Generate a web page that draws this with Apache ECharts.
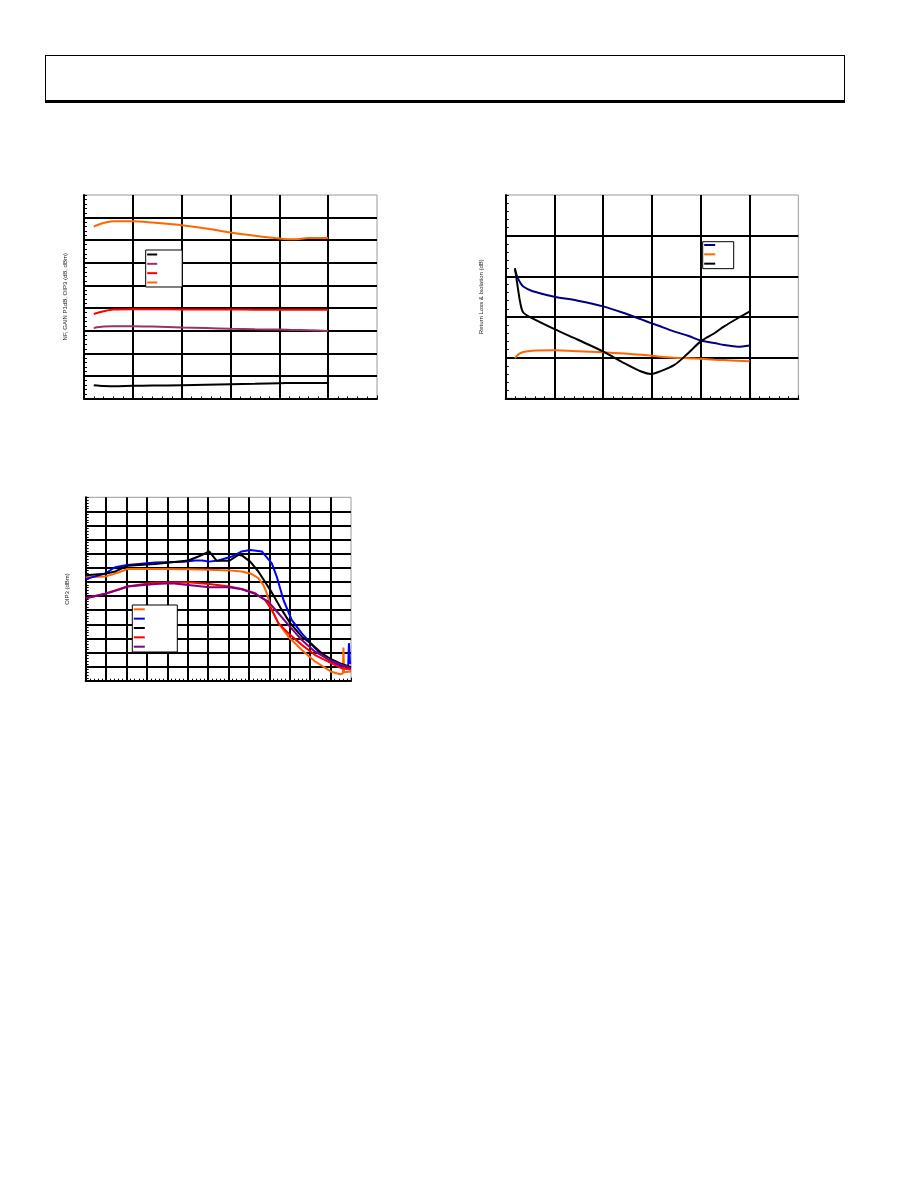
<!DOCTYPE html>
<html>
<head>
<meta charset="utf-8">
<script src="https://cdn.jsdelivr.net/npm/echarts@6/dist/echarts.min.js"></script>
<style>
html,body{margin:0;padding:0;background:#fff;}
#hdr{position:absolute;left:45px;top:55px;width:800px;height:48px;box-sizing:border-box;border:1px solid #000;border-bottom:3px solid #000;}
#main{position:absolute;left:0;top:0;width:918px;height:1188px;}
</style>
</head>
<body>
<div id="main"></div>
<div id="hdr"></div>
<script>
// ---------- Chart 1: NF, Gain, P1dB, OIP3 vs frequency (GHz) ----------
const c1Freq = [0.1, 0.2, 0.3, 0.5, 0.7, 1.0, 1.25, 1.5, 1.75, 2.0, 2.15, 2.3, 2.5];
const c1NF   = [2.95, 2.75, 2.72, 2.8, 2.85, 2.95, 3.05, 3.15, 3.25, 3.38, 3.42, 3.45, 3.45];
const c1Gain = [15.6, 15.9, 16.0, 16.0, 15.9, 15.7, 15.6, 15.4, 15.3, 15.25, 15.15, 15.1, 14.95];
const c1P1dB = [18.7, 19.3, 19.7, 19.75, 19.75, 19.7, 19.7, 19.7, 19.65, 19.65, 19.6, 19.6, 19.6];
const c1OIP3 = [38.0, 38.8, 39.2, 39.2, 38.9, 38.3, 37.6, 36.7, 36.0, 35.4, 35.2, 35.5, 35.5];

// ---------- Chart 2: Return loss & isolation (dB) ----------
const c2Freq = [0.095, 0.12, 0.15, 0.18, 0.27, 0.5, 0.74, 1.0, 1.22, 1.39, 1.49, 1.56, 1.73, 1.87, 2.0, 2.14, 2.24, 2.38, 2.5];
const c2S11  = [-18.4, -20.2, -21.6, -22.5, -23.6, -25.0, -26.0, -27.4, -29.1, -30.6, -31.5, -32.1, -33.6, -34.6, -35.8, -36.4, -36.9, -37.3, -37.0];
const c2S22  = [-40.1, -39.4, -38.9, -38.6, -38.3, -38.2, -38.4, -38.7, -39.0, -39.3, -39.5, -39.7, -40.0, -40.15, -40.3, -40.5, -40.6, -40.75, -40.9];
const c2S12  = [-18.0, -22.1, -26.6, -28.9, -30.3, -33.0, -35.6, -38.5, -41.4, -43.4, -44.0, -43.6, -41.8, -38.9, -36.0, -34.0, -32.3, -30.3, -28.7];

// ---------- Chart 3: OIP3 (dBm) ----------
const c3OrangeX = [0, 0.95, 1.6, 2.04, 3.4, 5.03, 6.05, 7.04, 7.65, 8.14, 8.46, 8.71, 8.87, 9.12, 9.44, 9.93, 10.59, 11.24, 12.03, 12.47, 12.6, 12.63, 12.66, 13];
const c3OrangeY = [36.7, 36.9, 38.3, 39.6, 39.6, 39.5, 39.3, 39.1, 38.7, 37.8, 36.3, 33.9, 31.0, 25.1, 20.4, 15.6, 10.9, 6.8, 3.2, 2.3, 2.5, 11.8, 3.0, 3.3];
const c3BlueX = [0, 0.95, 1.44, 2.04, 3.4, 4.79, 5.36, 5.7, 6.05, 6.5, 7.16, 7.65, 8.06, 8.63, 9.12, 9.36, 9.69, 10.1, 10.59, 11.03, 11.57, 12.03, 12.55, 12.86, 12.9, 12.95, 13];
const c3BlueY = [36.0, 38.0, 40.2, 41.0, 41.9, 42.2, 42.6, 42.6, 42.2, 42.6, 44.0, 45.8, 46.3, 45.8, 41.6, 36.9, 28.6, 21.5, 16.8, 13.2, 9.1, 6.8, 5.2, 4.9, 13.3, 6.2, 6.2];
const c3BlackX = [0, 0.95, 1.44, 2.04, 3.4, 5.03, 5.52, 6.05, 6.42, 7.04, 7.48, 7.65, 8.06, 8.46, 9.04, 9.61, 10.02, 10.59, 11.03, 11.57, 12.03, 12.55, 13];
const c3BlackY = [37.4, 37.9, 38.7, 40.7, 41.4, 42.6, 44.0, 45.8, 42.5, 42.5, 44.6, 44.4, 42.2, 38.7, 32.2, 25.1, 20.4, 15.6, 13.2, 9.7, 7.6, 5.9, 4.8];
const c3RedX = [0, 0.95, 2.04, 3.4, 5.03, 6.05, 7.04, 7.65, 8.3, 8.79, 9.12, 9.44, 9.93, 10.59, 11.24, 12.03, 12.55, 13];
const c3RedY = [29.2, 30.8, 33.4, 34.8, 34.9, 34.3, 33.4, 32.5, 31.0, 28.6, 25.1, 20.4, 16.8, 12.7, 9.1, 6.2, 4.4, 4.0];
const c3PurpleX = [0, 0.95, 1.6, 2.04, 3.4, 4.22, 5.03, 6.05, 7.04, 7.65, 8.3, 8.95, 9.44, 9.93, 10.59, 11.24, 12.03, 12.55, 13];
const c3PurpleY = [29.2, 30.8, 32.2, 33.4, 34.3, 34.5, 33.9, 33.1, 33.1, 32.4, 30.8, 28.0, 23.9, 19.8, 14.4, 10.3, 7.0, 5.6, 4.4];

const zip = (xs, ys) => xs.map((x, i) => [x, ys[i]]);

const FONT = 'Liberation Sans, Arial, sans-serif';

function xAxisCfg(gridIndex, min, max, interval) {
  return {
    type: 'value', gridIndex, min, max, interval,
    axisLine: { show: true, onZero: false, lineStyle: { color: '#000', width: 2 } },
    axisTick: { show: true, inside: true, length: 3, lineStyle: { color: '#000', width: 1 } },
    minorTick: { show: true, splitNumber: 5, length: 2, lineStyle: { color: '#000', width: 1 } },
    axisLabel: { show: false },
    splitLine: { show: true, showMaxLine: false, showMinLine: false, lineStyle: { color: '#000', width: 2 } },
    minorSplitLine: { show: false }
  };
}
function yAxisCfg(gridIndex, min, max, interval, name, nameGap) {
  return {
    type: 'value', gridIndex, min, max, interval,
    name, nameLocation: 'middle', nameGap, nameRotate: 90,
    nameTextStyle: { fontSize: 6, color: '#222', fontFamily: FONT },
    axisLine: { show: true, onZero: false, lineStyle: { color: '#000', width: 2 } },
    axisTick: { show: true, inside: true, length: 3, lineStyle: { color: '#000', width: 1 } },
    minorTick: { show: true, splitNumber: 5, length: 3, lineStyle: { color: '#000', width: 1 } },
    axisLabel: { show: false },
    splitLine: { show: true, showMaxLine: false, showMinLine: false, lineStyle: { color: '#000', width: 2 } },
    minorSplitLine: { show: false }
  };
}
function line(name, data, color, xi, smooth) {
  return {
    type: 'line', name, data, xAxisIndex: xi, yAxisIndex: xi,
    showSymbol: false, symbol: 'none', smooth: smooth,
    lineStyle: { color, width: 2 }, itemStyle: { color },
    emphasis: { disabled: true }, animation: false, z: 5
  };
}
function legendCfg(names, left, top, padding, itemWidth, gap) {
  return {
    data: names, orient: 'vertical', left, top, padding,
    itemWidth, itemHeight: 2, itemGap: gap, icon: 'rect',
    formatter: () => '', selectedMode: false,
    textStyle: { fontSize: 7, lineHeight: 7, padding: 0 },
    backgroundColor: '#fff', borderColor: '#000', borderWidth: 1, borderRadius: 0, z: 10
  };
}

const c1Names = ['NF', 'Gain', 'P1dB', 'OIP3'];
const c2Names = ['Input Return Loss', 'Output Return Loss', 'Isolation'];
const c3Names = ['OIP3 condition 1', 'OIP3 condition 2', 'OIP3 condition 3', 'OIP3 condition 4', 'OIP3 condition 5'];

const option = {
  animation: false,
  backgroundColor: '#fff',
  textStyle: { fontFamily: FONT },
  grid: [
    { left: 84, top: 195, width: 293, height: 203.5, show: true, borderColor: '#9a9a9a', borderWidth: 1, backgroundColor: 'transparent' },
    { left: 505.7, top: 195, width: 292.6, height: 203.3, show: true, borderColor: '#9a9a9a', borderWidth: 1, backgroundColor: 'transparent' },
    { left: 85.7, top: 497.3, width: 265.3, height: 183.4, show: true, borderColor: '#9a9a9a', borderWidth: 1, backgroundColor: 'transparent' }
  ],
  xAxis: [
    xAxisCfg(0, 0, 3, 0.5),
    xAxisCfg(1, 0, 3, 0.5),
    xAxisCfg(2, 0, 13, 1)
  ],
  yAxis: [
    yAxisCfg(0, 0, 45, 5, 'NF, GAIN P1dB, OIP3 (dB, dBm)', 16),
    yAxisCfg(1, -50, 0, 10, 'Return Loss & Isolation (dB)', 21),
    yAxisCfg(2, 0, 65, 5, 'OIP3 (dBm)', 15)
  ],
  legend: [
    legendCfg(c1Names, 145.7, 250, [3.5, 20, 3.5, 1.5], 10, 7.33),
    legendCfg(c2Names, 702.7, 241.7, [2.3, 13.5, 4, 1.5], 11, 7.33),
    legendCfg(c3Names, 132.3, 605, [3.3, 27.5, 4.3, 1.5], 11, 7.35)
  ],
  series: [
    line(c1Names[0], zip(c1Freq, c1NF), '#000000', 0, 0.3),
    line(c1Names[1], zip(c1Freq, c1Gain), '#993366', 0, 0.3),
    line(c1Names[2], zip(c1Freq, c1P1dB), '#ff0000', 0, 0.3),
    line(c1Names[3], zip(c1Freq, c1OIP3), '#ff6600', 0, 0.3),
    line(c2Names[0], zip(c2Freq, c2S11), '#000080', 1, 0.3),
    line(c2Names[1], zip(c2Freq, c2S22), '#ff6600', 1, 0.3),
    line(c2Names[2], zip(c2Freq, c2S12), '#000000', 1, 0.3),
    line(c3Names[0], zip(c3OrangeX, c3OrangeY), '#ff6600', 2, false),
    line(c3Names[1], zip(c3BlueX, c3BlueY), '#0000ff', 2, false),
    line(c3Names[2], zip(c3BlackX, c3BlackY), '#000000', 2, false),
    line(c3Names[3], zip(c3RedX, c3RedY), '#ff0000', 2, false),
    line(c3Names[4], zip(c3PurpleX, c3PurpleY), '#800080', 2, false)
  ]
};

const chart = echarts.init(document.getElementById('main'), null, { renderer: 'canvas', width: 918, height: 1188 });
chart.setOption(option);
</script>
</body>
</html>
